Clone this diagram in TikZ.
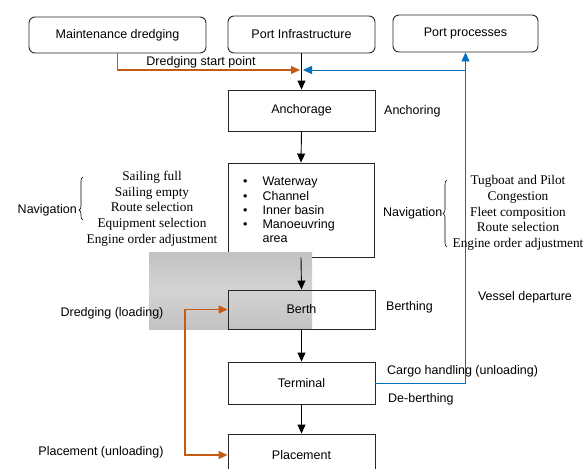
\documentclass[tikz,border=0pt]{standalone}
\usepackage{fontspec}
\setmainfont{Liberation Serif}
\setsansfont{Liberation Sans}
\usetikzlibrary{arrows.meta, decorations.pathreplacing}

\definecolor{dredgeorange}{RGB}{197,90,17}
\definecolor{procblue}{RGB}{0,112,192}
\definecolor{shadegray}{gray}{0.76}
\definecolor{shadelight}{gray}{0.83}

\begin{document}
\begin{tikzpicture}[x=1pt, y=-1pt,
    every node/.style={font=\sffamily\fontsize{12.5}{15}\selectfont},
    topbox/.style={draw=black!85, rounded corners=6pt, line width=0.9pt, inner sep=0pt},
    stagebox/.style={draw=black!85, line width=0.9pt, inner sep=0pt, minimum width=147pt},
    lbl/.style={inner sep=0pt},
    serifnote/.style={inner sep=0pt, align=center, font=\rmfamily\fontsize{13.3}{15.7}\selectfont},
    flow/.style={line width=0.9pt, -{Triangle[length=9pt, width=8pt]}},
    dredge/.style={dredgeorange, line width=1.1pt, -{Triangle[length=9pt, width=8pt]}},
    vessel/.style={procblue, line width=0.9pt, -{Triangle[length=9pt, width=8pt]}},
    navbrace/.style={line width=0.6pt, decorate, decoration={brace, amplitude=4pt, aspect=#1}}
  ]
  \clip (0,0) rectangle (587,469);

  % top row
  \node[topbox, minimum width=177pt, minimum height=36pt] (maint) at (117.5,35) {Maintenance dredging};
  \node[topbox, minimum width=147pt, minimum height=37pt] (infra) at (301.5,34.5) {Port Infrastructure};
  \node[topbox, minimum width=145pt, minimum height=37pt] (proc) at (465.5,33.5) {Port processes};

  % stages
  \node[stagebox, minimum height=41pt] (anch) at (301.5,110.5) {Anchorage};
  \node[stagebox, minimum width=146pt, minimum height=94pt] (water) at (301,210) {};
  \node[anchor=north west, inner sep=0pt, font=\sffamily\fontsize{12.5}{14.3}\selectfont] (waterlist) at (243,175.5)
    {\begin{tabular}{@{}l@{\hspace{15pt}}l@{}}
      \textbullet & Waterway\\
      \textbullet & Channel\\
      \textbullet & Inner basin\\
      \textbullet & Manoeuvring\\
                  & area
    \end{tabular}};

  % shaded band
  \shade[top color=shadegray, bottom color=shadegray, middle color=shadelight] (149,252) rectangle (312,329);

  \node[stagebox, minimum height=39pt] (berth) at (301.5,309.5) {Berth};
  \node[stagebox, minimum height=42pt] (term) at (301.5,383) {Terminal};
  \node[stagebox, minimum height=42pt] (place) at (301.5,455) {Placement};

  % main flow
  \draw[flow] (infra.south) -- (anch.north);
  \draw[flow] (anch.south) -- (water.north);
  \draw[flow] (water.south) -- (berth.north);
  \draw[flow] (berth.south) -- (term.north);
  \draw[flow] (term.south) -- (place.north);

  % dredging and vessel loops
  \coordinate (join) at (301.5,70);
  \coordinate (split) at (185,380);
  \draw[dredge] (maint.south) |- ([xshift=-1.5pt]join);
  \draw[vessel] (term.east) -| (proc.south);
  \draw[vessel] (proc.south |- join) -- ([xshift=1.5pt]join);
  \draw[dredge] (split) |- (berth.west);
  \draw[dredge] (split) |- (place.west);

  % labels
  \node[lbl] (startlbl) at (201,62) {Dredging start point};
  \node[lbl, anchor=west] (anchlbl) at (384,111) {Anchoring};
  \node[lbl, anchor=east] (navleft) at (77,210) {Navigation};
  \node[serifnote] (navleftlist) at (152,208.5) {Sailing full\\Sailing empty\\Route selection\\Equipment selection\\Engine order adjustment};
  \draw[navbrace=0.23] (83,220) -- (83,177);
  \node[lbl, anchor=west] (navright) at (383,213) {Navigation};
  \node[serifnote] (navrightlist) at (518,213) {Tugboat and Pilot\\Congestion\\Fleet composition\\Route selection\\Engine order adjustment};
  \draw[navbrace=0.5] (447,247) -- (447,180);
  \node[lbl] (departlbl) at (525,297) {Vessel departure};
  \node[lbl, anchor=west] (berthlbl) at (386,307) {Berthing};
  \node[lbl] (loadlbl) at (112,313) {Dredging (loading)};
  \node[lbl, anchor=west] (cargolbl) at (387,371) {Cargo handling (unloading)};
  \node[lbl, anchor=west] (deberthlbl) at (388,399) {De-berthing};
  \node[lbl] (unloadlbl) at (101,452) {Placement (unloading)};
\end{tikzpicture}
\end{document}
